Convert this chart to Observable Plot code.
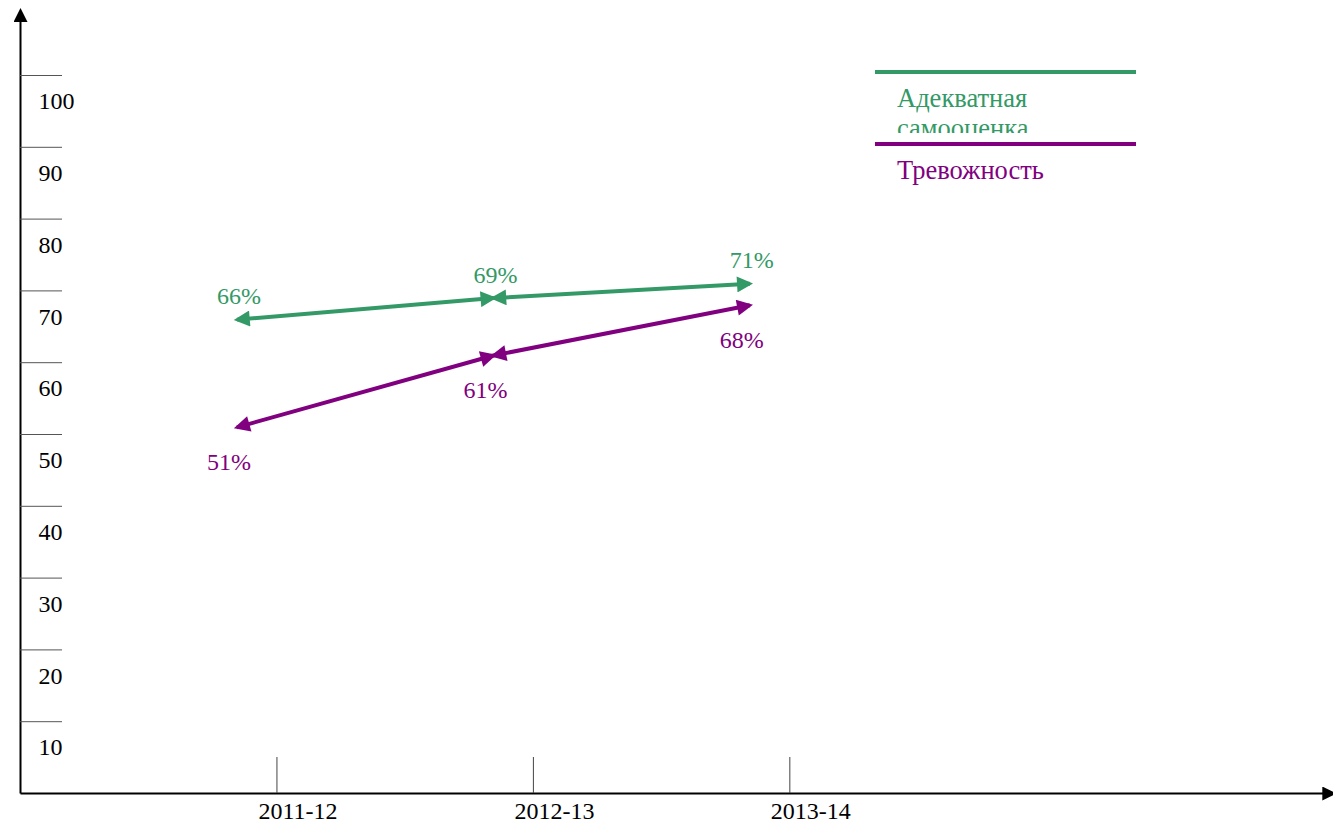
<!DOCTYPE html>
<html>
<head>
<meta charset="utf-8">
<script src="https://cdn.jsdelivr.net/npm/d3@7"></script>
<script src="https://cdn.jsdelivr.net/npm/@observablehq/plot@0.6"></script>
<style>
  html, body { margin: 0; padding: 0; background: #fff; }
  #wrap { position: relative; width: 1333px; height: 829px; overflow: hidden; font-family: "Liberation Serif", "Times New Roman", serif; }
  .lg-line { position: absolute; left: 875px; width: 261px; height: 4px; }
  .lg-text { position: absolute; left: 897px; font-size: 26.5px; line-height: 30px; }
</style>
</head>
<body>
<div id="wrap"></div>
<script>
// ---- data ----
const years = ["2011-12", "2012-13", "2013-14"];
const adequate = [66, 69, 71];      // Адекватная самооценка, %
const anxiety = [51, 61, 68];       // Тревожность, %
const yTicks = [10, 20, 30, 40, 50, 60, 70, 80, 90, 100];
const seriesNames = ["Адекватная самооценка", "Тревожность"];
const seriesColors = ["#339966", "#800080"];

// ---- layout constants ----
const W = 1333, H = 829;
const mL = 20, mR = 0, mT = 75, mB = 36;
const xDomain = [-1, 4.12];
const yTop = 109;          // top of the y-axis arrow
const font = "Liberation Serif";
const fs = 24;

const idx = years.map((_, i) => i);
const segs = (vals) => d3.pairs(idx).map(([a, b]) => ({x1: a, y1: vals[a], x2: b, y2: vals[b]}));

const svg = Plot.plot({
  width: W, height: H,
  marginLeft: mL, marginRight: mR, marginTop: mT, marginBottom: mB,
  x: {type: "linear", domain: xDomain, axis: null},
  y: {domain: [0, 100], axis: null},
  style: {fontFamily: font, fontSize: fs + "px", color: "black", background: "white", overflow: "visible"},
  marks: [
    // axis lines (arrows added below)
    Plot.link([{x1: xDomain[0], y1: 0, x2: xDomain[0], y2: yTop}], {x1: "x1", y1: "y1", x2: "x2", y2: "y2", stroke: "black", strokeWidth: 2}),
    Plot.link([{x1: xDomain[0], y1: 0, x2: xDomain[1], y2: 0}], {x1: "x1", y1: "y1", x2: "x2", y2: "y2", stroke: "black", strokeWidth: 2}),
    // y tick lines & labels
    Plot.tickY(yTicks, {y: d => d, stroke: "#555", strokeWidth: 1, insetRight: W - mL - mR - 42}),
    Plot.text(yTicks, {y: d => d, text: d => String(d), frameAnchor: "left", dx: 18, dy: 26, textAnchor: "start", fontSize: fs, fill: "black"}),
    // x tick lines & labels
    Plot.tickX(idx, {x: d => d, stroke: "#444", strokeWidth: 1, insetTop: H - mT - mB - 36}),
    Plot.text(idx, {x: d => d, text: d => years[d], frameAnchor: "bottom", dx: 21, dy: 25, fontSize: fs, fill: "black"}),
    // series
    Plot.link(segs(adequate), {x1: "x1", y1: "y1", x2: "x2", y2: "y2", dx: -40, stroke: seriesColors[0], strokeWidth: 4}),
    Plot.link(segs(anxiety), {x1: "x1", y1: "y1", x2: "x2", y2: "y2", dx: -40, stroke: seriesColors[1], strokeWidth: 4}),
    Plot.text(adequate, {x: (d, i) => i, y: d => d, text: d => d + "%", dx: -38, dy: -23, fill: seriesColors[0], fontSize: fs}),
    Plot.text(anxiety, {x: (d, i) => i, y: d => d, text: d => d + "%", dx: -48, dy: 35, fill: seriesColors[1], fontSize: fs})
  ]
});

// arrowhead markers
const s = d3.select(svg);
const defs = s.append("defs");
function marker(id, color, w, h) {
  defs.append("marker")
    .attr("id", id).attr("viewBox", "0 0 10 10").attr("refX", 8).attr("refY", 5)
    .attr("markerWidth", w).attr("markerHeight", h)
    .attr("markerUnits", "userSpaceOnUse").attr("orient", "auto-start-reverse")
    .append("path").attr("d", "M0,0L10,5L0,10Z").attr("fill", color);
}
marker("ah-black", "black", 15, 14);
marker("ah-s0", seriesColors[0], 18, 16);
marker("ah-s1", seriesColors[1], 18, 16);
const linkGroups = s.selectAll('g[aria-label="link"]').nodes();
d3.select(linkGroups[0]).selectAll("path").attr("marker-end", "url(#ah-black)");
d3.select(linkGroups[1]).selectAll("path").attr("marker-end", "url(#ah-black)");
d3.select(linkGroups[2]).selectAll("path").attr("marker-start", "url(#ah-s0)").attr("marker-end", "url(#ah-s0)");
d3.select(linkGroups[3]).selectAll("path").attr("marker-start", "url(#ah-s1)").attr("marker-end", "url(#ah-s1)");

const wrap = document.getElementById("wrap");
wrap.appendChild(svg);
svg.style.position = "absolute";
svg.style.left = "0px";
svg.style.top = "0px";

// legend (series names from data)
function addDiv(cls, css, text) {
  const d = document.createElement("div");
  d.className = cls;
  Object.assign(d.style, css);
  if (text) d.textContent = text;
  wrap.appendChild(d);
  return d;
}
addDiv("lg-line", {top: "70px", background: seriesColors[0]});
addDiv("lg-text", {top: "83px", width: "200px", height: "50px", overflow: "hidden", color: seriesColors[0]}, seriesNames[0]);
addDiv("lg-line", {top: "142px", background: seriesColors[1]});
addDiv("lg-text", {top: "155px", width: "240px", color: seriesColors[1]}, seriesNames[1]);
</script>
</body>
</html>
